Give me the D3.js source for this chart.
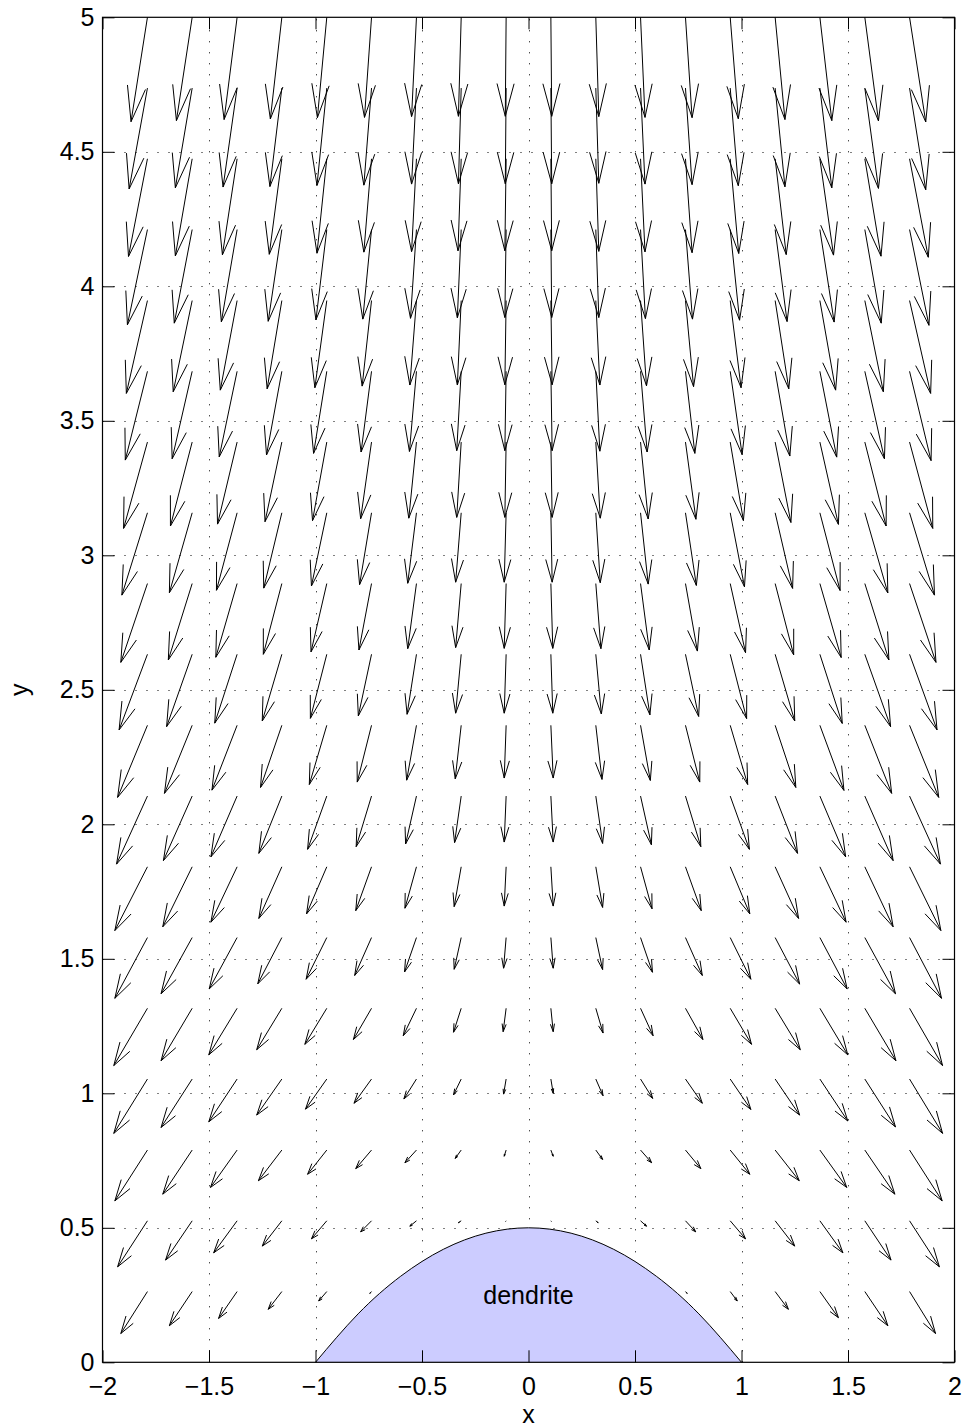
<!DOCTYPE html>
<html>
<head>
<meta charset="utf-8">
<script src="https://d3js.org/d3.v7.min.js"></script>
<style>
  body { margin: 0; background: #fff; }
  text { font-family: "Liberation Sans", Arial, Helvetica, sans-serif; }
</style>
</head>
<body>
<div id="chart"></div>
<script>
// grid positions of the arrows (x columns, y rows)
var xCols = [-1.789, -1.579, -1.368, -1.158, -0.947, -0.737, -0.526, -0.316, -0.105,
              0.105, 0.316, 0.526, 0.737, 0.947, 1.158, 1.368, 1.579, 1.789];
var yRows = [0.263, 0.526, 0.789, 1.053, 1.316, 1.579, 1.842, 2.105, 2.368, 2.632,
             2.895, 3.158, 3.421, 3.684, 3.947, 4.211, 4.474, 4.737, 5.0];

// arrow components (u = x part, v = y part), one row per y, null = inside dendrite
var uRows = [
  [-0.125,-0.107,-0.087,-0.064,-0.038,-0.008,null,null,null,null,null,null,0.008,0.033,0.062,0.087,0.108,0.122],
  [-0.140,-0.125,-0.110,-0.092,-0.072,-0.051,-0.031,-0.013,-0.002,0.002,0.011,0.028,0.048,0.072,0.092,0.108,0.123,0.140],
  [-0.153,-0.138,-0.125,-0.110,-0.090,-0.074,-0.054,-0.028,-0.009,0.011,0.032,0.052,0.072,0.092,0.113,0.126,0.141,0.153],
  [-0.158,-0.146,-0.133,-0.118,-0.100,-0.082,-0.059,-0.036,-0.012,0.011,0.034,0.057,0.079,0.097,0.115,0.131,0.144,0.155],
  [-0.158,-0.146,-0.133,-0.118,-0.103,-0.085,-0.062,-0.036,-0.014,0.011,0.034,0.059,0.082,0.100,0.118,0.131,0.146,0.155],
  [-0.153,-0.146,-0.131,-0.113,-0.097,-0.079,-0.056,-0.033,-0.012,0.011,0.032,0.056,0.079,0.097,0.115,0.128,0.144,0.150],
  [-0.153,-0.138,-0.123,-0.108,-0.095,-0.074,-0.054,-0.033,-0.009,0.011,0.032,0.054,0.074,0.092,0.110,0.123,0.133,0.147],
  [-0.145,-0.135,-0.123,-0.108,-0.090,-0.072,-0.051,-0.031,-0.009,0.011,0.032,0.051,0.072,0.090,0.105,0.121,0.133,0.145],
  [-0.140,-0.130,-0.118,-0.100,-0.082,-0.067,-0.046,-0.028,-0.009,0.011,0.029,0.046,0.067,0.082,0.097,0.113,0.126,0.137],
  [-0.133,-0.120,-0.105,-0.092,-0.077,-0.062,-0.044,-0.026,-0.009,0.009,0.026,0.044,0.062,0.077,0.092,0.105,0.121,0.129],
  [-0.125,-0.112,-0.100,-0.087,-0.074,-0.059,-0.041,-0.026,-0.009,0.009,0.024,0.041,0.056,0.072,0.087,0.100,0.113,0.124],
  [-0.120,-0.107,-0.097,-0.085,-0.072,-0.056,-0.041,-0.026,-0.009,0.006,0.021,0.036,0.051,0.067,0.082,0.095,0.108,0.117],
  [-0.112,-0.102,-0.092,-0.079,-0.067,-0.051,-0.036,-0.021,-0.006,0.006,0.021,0.036,0.049,0.062,0.074,0.087,0.100,0.109],
  [-0.104,-0.094,-0.084,-0.072,-0.062,-0.049,-0.033,-0.021,-0.006,0.006,0.019,0.031,0.044,0.056,0.069,0.079,0.092,0.101],
  [-0.099,-0.089,-0.079,-0.069,-0.056,-0.044,-0.031,-0.018,-0.006,0.006,0.019,0.028,0.038,0.051,0.064,0.074,0.087,0.099],
  [-0.094,-0.084,-0.074,-0.064,-0.051,-0.041,-0.028,-0.018,-0.006,0.004,0.014,0.023,0.033,0.044,0.056,0.067,0.077,0.091],
  [-0.089,-0.079,-0.069,-0.059,-0.046,-0.036,-0.023,-0.015,-0.006,0.004,0.014,0.021,0.031,0.040,0.052,0.064,0.076,0.088],
  [-0.086,-0.079,-0.066,-0.056,-0.046,-0.036,-0.023,-0.013,-0.004,0.004,0.014,0.021,0.031,0.038,0.046,0.056,0.064,0.076],
  [-0.077,-0.074,-0.061,-0.054,-0.044,-0.033,-0.023,-0.013,-0.004,0.004,0.014,0.021,0.031,0.038,0.046,0.056,0.064,0.076]
];
var vRows = [
  [-0.156,-0.127,-0.100,-0.066,-0.035,-0.007,null,null,null,null,null,null,-0.007,-0.035,-0.066,-0.097,-0.127,-0.156],
  [-0.171,-0.146,-0.119,-0.094,-0.067,-0.041,-0.020,-0.007,-0.002,-0.002,-0.007,-0.020,-0.041,-0.067,-0.094,-0.119,-0.146,-0.171],
  [-0.189,-0.164,-0.139,-0.114,-0.090,-0.069,-0.047,-0.031,-0.023,-0.023,-0.035,-0.047,-0.069,-0.090,-0.114,-0.139,-0.164,-0.189],
  [-0.202,-0.180,-0.159,-0.134,-0.112,-0.090,-0.074,-0.059,-0.056,-0.053,-0.062,-0.072,-0.090,-0.113,-0.134,-0.156,-0.178,-0.202],
  [-0.213,-0.195,-0.173,-0.154,-0.134,-0.116,-0.102,-0.089,-0.087,-0.087,-0.092,-0.102,-0.116,-0.134,-0.154,-0.173,-0.195,-0.213],
  [-0.226,-0.209,-0.191,-0.172,-0.155,-0.141,-0.128,-0.118,-0.114,-0.114,-0.119,-0.129,-0.141,-0.155,-0.173,-0.191,-0.209,-0.226],
  [-0.237,-0.223,-0.206,-0.192,-0.175,-0.163,-0.154,-0.148,-0.146,-0.146,-0.151,-0.156,-0.163,-0.175,-0.192,-0.206,-0.223,-0.237],
  [-0.253,-0.240,-0.226,-0.213,-0.198,-0.188,-0.178,-0.173,-0.171,-0.171,-0.176,-0.181,-0.188,-0.198,-0.213,-0.226,-0.240,-0.253],
  [-0.268,-0.253,-0.241,-0.231,-0.220,-0.211,-0.204,-0.199,-0.196,-0.196,-0.201,-0.205,-0.211,-0.220,-0.231,-0.242,-0.253,-0.268],
  [-0.281,-0.269,-0.256,-0.248,-0.238,-0.229,-0.223,-0.219,-0.219,-0.219,-0.222,-0.225,-0.231,-0.239,-0.248,-0.257,-0.269,-0.281],
  [-0.293,-0.284,-0.274,-0.263,-0.254,-0.247,-0.242,-0.238,-0.241,-0.241,-0.242,-0.247,-0.251,-0.257,-0.265,-0.275,-0.284,-0.293],
  [-0.306,-0.297,-0.288,-0.280,-0.272,-0.267,-0.262,-0.258,-0.258,-0.258,-0.260,-0.265,-0.270,-0.275,-0.281,-0.289,-0.298,-0.306],
  [-0.321,-0.312,-0.305,-0.296,-0.292,-0.285,-0.283,-0.280,-0.280,-0.280,-0.283,-0.286,-0.287,-0.292,-0.299,-0.306,-0.312,-0.321],
  [-0.330,-0.325,-0.318,-0.311,-0.305,-0.300,-0.298,-0.295,-0.295,-0.295,-0.297,-0.300,-0.305,-0.310,-0.315,-0.319,-0.325,-0.332],
  [-0.345,-0.339,-0.333,-0.328,-0.324,-0.318,-0.314,-0.314,-0.313,-0.313,-0.314,-0.317,-0.320,-0.324,-0.328,-0.333,-0.339,-0.345],
  [-0.354,-0.348,-0.343,-0.341,-0.336,-0.333,-0.330,-0.328,-0.327,-0.327,-0.327,-0.331,-0.333,-0.337,-0.342,-0.344,-0.348,-0.356],
  [-0.363,-0.361,-0.357,-0.355,-0.351,-0.347,-0.345,-0.342,-0.342,-0.342,-0.344,-0.346,-0.349,-0.352,-0.356,-0.358,-0.362,-0.366],
  [-0.375,-0.371,-0.368,-0.366,-0.362,-0.361,-0.357,-0.356,-0.356,-0.356,-0.354,-0.357,-0.359,-0.363,-0.367,-0.371,-0.373,-0.378],
  [-0.388,-0.384,-0.380,-0.378,-0.373,-0.372,-0.369,-0.368,-0.368,-0.368,-0.369,-0.372,-0.373,-0.377,-0.380,-0.384,-0.385,-0.389]
];

// dendrite outline
var dendriteX = [-1, -0.8, -0.6, -0.4, -0.2, 0, 0.2, 0.4, 0.6, 0.8, 1];
var dendriteY = [0, 0.18, 0.32, 0.42, 0.48, 0.5, 0.48, 0.42, 0.32, 0.18, 0];

var xTicks = [-2, -1.5, -1, -0.5, 0, 0.5, 1, 1.5, 2];
var yTicks = [0, 0.5, 1, 1.5, 2, 2.5, 3, 3.5, 4, 4.5, 5];

function init(){
    var w = 963;
    var h = 1428;
    var left = 102.5, right = 954.5, top = 17.3, bottom = 1362.3;

    var xScale = d3.scaleLinear().domain([-2, 2]).range([left, right]);
    var yScale = d3.scaleLinear().domain([0, 5]).range([bottom, top]);

    var svg = d3.select("#chart")
                .append("svg")
                .attr("width", w)
                .attr("height", h)
                .style("background", "#fff");

    //dotted grid
    var grid = svg.append("g")
                  .attr("stroke", "#000")
                  .attr("stroke-width", 1)
                  .attr("stroke-dasharray", "1,10");
    grid.selectAll("line.gx")
        .data(xTicks.slice(1, -1))
        .enter()
        .append("line")
        .attr("x1", function(d){ return Math.round(xScale(d)) + 0.5; })
        .attr("x2", function(d){ return Math.round(xScale(d)) + 0.5; })
        .attr("y1", bottom)
        .attr("y2", top);
    grid.selectAll("line.gy")
        .data(yTicks.slice(1, -1))
        .enter()
        .append("line")
        .attr("y1", function(d){ return Math.round(yScale(d)) + 0.5; })
        .attr("y2", function(d){ return Math.round(yScale(d)) + 0.5; })
        .attr("x1", left)
        .attr("x2", right);

    //dendrite patch
    var pts = dendriteX.map(function(d, i){ return [d, dendriteY[i]]; });
    var area = d3.area()
                 .x(function(d){ return xScale(d[0]); })
                 .y0(yScale(0))
                 .y1(function(d){ return yScale(d[1]); })
                 .curve(d3.curveNatural);
    var outline = d3.line()
                 .x(function(d){ return xScale(d[0]); })
                 .y(function(d){ return yScale(d[1]); })
                 .curve(d3.curveNatural);
    svg.append("path")
       .datum(pts)
       .attr("d", area)
       .attr("fill", "#ccccff");
    svg.append("path")
       .datum(pts)
       .attr("d", outline)
       .attr("fill", "none")
       .attr("stroke", "#000")
       .attr("stroke-width", 1);

    svg.append("text")
       .attr("x", xScale(0))
       .attr("y", yScale(0.25))
       .attr("dy", "0.35em")
       .attr("text-anchor", "middle")
       .attr("font-size", "25px")
       .text("dendrite");

    //quiver arrows
    var arrows = [];
    yRows.forEach(function(yv, j){
        xCols.forEach(function(xv, k){
            var u = uRows[j][k], v = vRows[j][k];
            if (u === null || v === null) return;
            arrows.push({x: xv, y: yv, u: u, v: v});
        });
    });

    var alpha = 0.33, beta = 0.33;
    svg.append("g")
       .selectAll("path")
       .data(arrows)
       .enter()
       .append("path")
       .attr("fill", "none")
       .attr("stroke", "#000")
       .attr("stroke-width", 1)
       .attr("d", function(d){
           var tx = d.x + d.u, ty = d.y + d.v;
           var h1x = tx - alpha * (d.u + beta * d.v), h1y = ty - alpha * (d.v - beta * d.u);
           var h2x = tx - alpha * (d.u - beta * d.v), h2y = ty - alpha * (d.v + beta * d.u);
           return "M" + xScale(d.x) + "," + yScale(d.y) +
                  "L" + xScale(tx) + "," + yScale(ty) +
                  "M" + xScale(h1x) + "," + yScale(h1y) +
                  "L" + xScale(tx) + "," + yScale(ty) +
                  "L" + xScale(h2x) + "," + yScale(h2y);
       });

    //axes, ticks pointing inwards on all sides
    var fmt = d3.format("~g");
    svg.append("g")
       .attr("transform", "translate(0," + bottom + ")")
       .call(d3.axisBottom(xScale).tickValues(xTicks).tickFormat(fmt).tickSize(-12).tickPadding(15));
    svg.append("g")
       .attr("transform", "translate(0," + top + ")")
       .call(d3.axisTop(xScale).tickValues(xTicks).tickFormat("").tickSize(-12));
    svg.append("g")
       .attr("transform", "translate(" + left + ",0)")
       .call(d3.axisLeft(yScale).tickValues(yTicks).tickFormat(fmt).tickSize(-12).tickPadding(8));
    svg.append("g")
       .attr("transform", "translate(" + right + ",0)")
       .call(d3.axisRight(yScale).tickValues(yTicks).tickFormat("").tickSize(-12));

    svg.selectAll(".domain").remove();
    svg.selectAll(".tick line").attr("stroke", "#000").attr("stroke-width", 1);
    svg.selectAll(".tick text")
       .attr("fill", "#000")
       .style("font-family", "'Liberation Sans', Arial, sans-serif")
       .style("font-size", "25px");

    //box
    svg.append("rect")
       .attr("x", left)
       .attr("y", top)
       .attr("width", right - left)
       .attr("height", bottom - top)
       .attr("fill", "none")
       .attr("stroke", "#000")
       .attr("stroke-width", 1.2);

    //axis labels
    svg.append("text")
       .attr("x", xScale(0))
       .attr("y", 1423)
       .attr("text-anchor", "middle")
       .attr("font-size", "25px")
       .text("x");
    svg.append("text")
       .attr("transform", "translate(28," + ((top + bottom) / 2) + ") rotate(-90)")
       .attr("text-anchor", "middle")
       .attr("font-size", "25px")
       .text("y");
}
window.onload = init;
</script>
</body>
</html>
